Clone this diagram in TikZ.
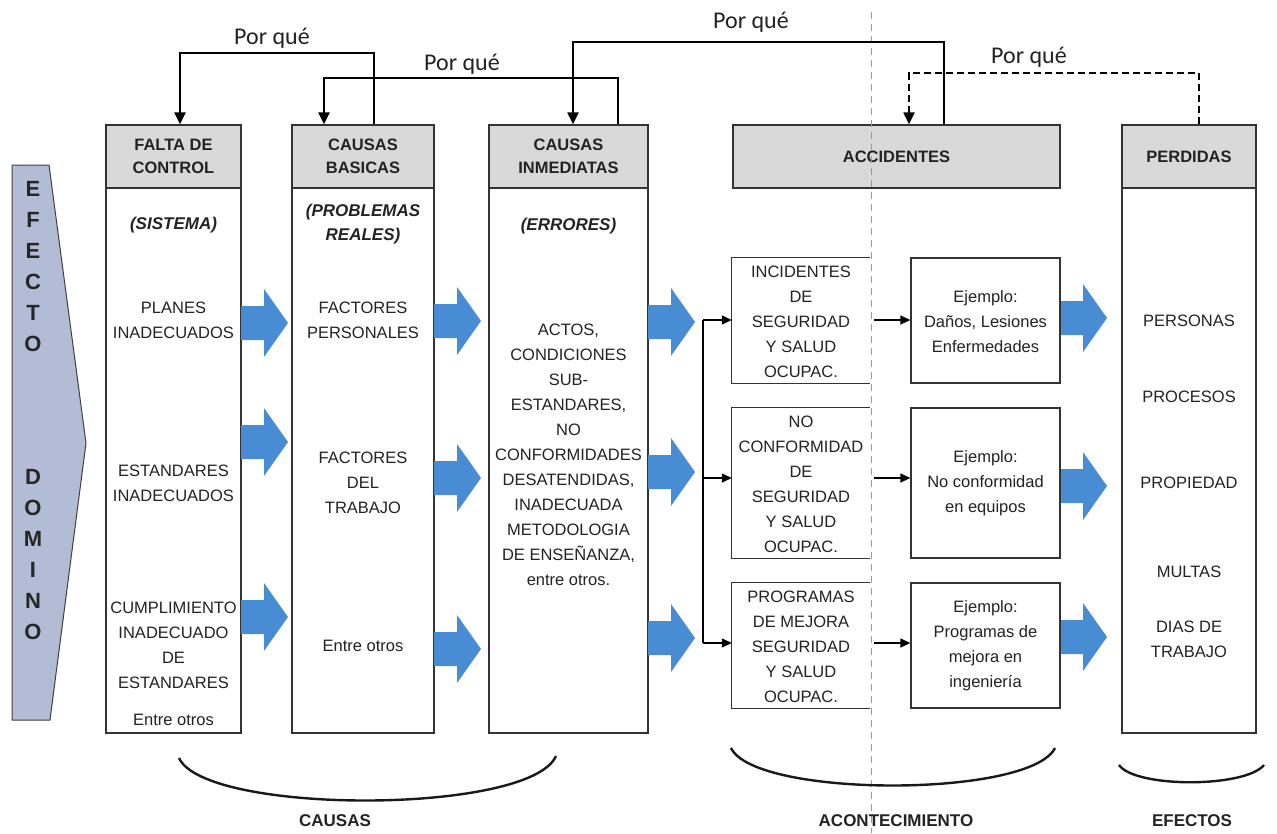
\documentclass[tikz,border=0pt]{standalone}
\usepackage{fontspec}
\setmainfont{Liberation Sans}
\newfontfamily\porfont{Carlito}
\usetikzlibrary{arrows.meta}
\definecolor{hdr}{RGB}{217,217,217}
\definecolor{blueA}{RGB}{72,141,212}
\definecolor{domino}{RGB}{178,188,212}
\definecolor{txtc}{RGB}{35,35,35}
\newcommand\bluearr[2]{\fill[blueA,shift={(#1,#2)}] (0,-17) -- (23,-17) -- (23,-34) -- (47,0) -- (23,34) -- (23,17) -- (0,17) -- cycle;}
\begin{document}
\begin{tikzpicture}[x=1pt,y=-1pt,
  box/.style={draw=black!80,line width=1.3pt,inner sep=0pt},
  hdrbox/.style={box,fill=hdr,align=center,text=txtc,font=\fontsize{16.5}{23}\selectfont\bfseries},
  txt/.style={text=txtc,align=center,inner sep=0pt,font=\fontsize{16.5}{25}\selectfont},
  subt/.style={text=txtc,align=center,inner sep=0pt,font=\fontsize{17}{24}\selectfont\bfseries\itshape},
  porque/.style={font=\porfont\fontsize{24}{26}\selectfont,inner sep=0pt,text=txtc},
  conn/.style={line width=2.2pt,-{Triangle[length=12pt,width=11pt]}},
  smallarr/.style={line width=1.3pt,-{Triangle[length=10pt,width=9pt]}},
  bottomlbl/.style={font=\fontsize{17}{20}\selectfont\bfseries,inner sep=0pt,text=txtc},
  brace/.style={line width=2.4pt,black!90},
  letters/.style={align=center,inner sep=0pt,font=\fontsize{22}{31}\selectfont\bfseries,text=black!85}
  ]
\fill[white] (0,0) rectangle (1277,833);
\useasboundingbox (0,0) rectangle (1277,833);

% dominó arrow
\draw[fill=domino,draw=black!75,line width=1pt] (12,165) -- (49,165) -- (86,443) -- (50,720) -- (12,720) -- cycle;
\node[letters] (ef) at (33,267) {E\\F\\E\\C\\T\\O};
\node[letters] (dm) at (33,555) {D\\O\\M\\I\\N\\O};

% column boxes
\node[hdrbox,minimum width=135pt,minimum height=63pt] (h1) at (173.5,156.5) {FALTA DE\\CONTROL};
\node[box,minimum width=135pt,minimum height=545pt] (b1) at (173.5,460.5) {};
\node[hdrbox,minimum width=142pt,minimum height=63pt] (h2) at (363,156.5) {CAUSAS\\BASICAS};
\node[box,minimum width=142pt,minimum height=545pt] (b2) at (363,460.5) {};
\node[hdrbox,minimum width=159pt,minimum height=63pt] (h3) at (568.5,156.5) {CAUSAS\\INMEDIATAS};
\node[box,minimum width=159pt,minimum height=545pt] (b3) at (568.5,460.5) {};
\node[hdrbox,minimum width=327pt,minimum height=63pt] (hA) at (896.5,156.5) {ACCIDENTES};
\node[hdrbox,minimum width=134pt,minimum height=63pt] (h5) at (1189,156.5) {PERDIDAS};
\node[box,minimum width=134pt,minimum height=545pt] (b5) at (1189,460.5) {};

% column 1 texts
\node[subt] (s1) at (173.5,225) {(SISTEMA)};
\node[txt] (t1a) at (173.5,320.5) {PLANES\\INADECUADOS};
\node[txt] (t1b) at (173.5,483.5) {ESTANDARES\\INADECUADOS};
\node[txt] (t1c) at (173.5,645) {CUMPLIMIENTO\\INADECUADO\\DE\\ESTANDARES};
\node[txt] (t1d) at (173.5,720) {Entre otros};
% column 2 texts
\node[subt] (s2) at (363,224.5) {(PROBLEMAS\\REALES)};
\node[txt] (t2a) at (363,320.5) {FACTORES\\PERSONALES};
\node[txt] (t2b) at (363,483) {FACTORES\\DEL\\TRABAJO};
\node[txt] (t2c) at (363,646) {Entre otros};
% column 3 texts
\node[subt] (s3) at (568.5,226) {(ERRORES)};
\node[txt] (t3a) at (568.5,455) {ACTOS,\\CONDICIONES\\SUB-\\ESTANDARES,\\NO\\CONFORMIDADES\\DESATENDIDAS,\\INADECUADA\\METODOLOGIA\\DE ENSEÑANZA,\\entre otros.};

% blue arrows
\bluearr{241}{323}\bluearr{241}{442}\bluearr{241}{617}
\bluearr{434}{321}\bluearr{434}{478}\bluearr{434}{649}
\bluearr{648}{322}\bluearr{648}{472}\bluearr{648}{638}
\bluearr{1060}{318}\bluearr{1060}{486}\bluearr{1060}{637}

% event boxes (open on the right)
\node[minimum width=138pt,minimum height=125pt,inner sep=0pt] (e1) at (801,320.5) {};
\node[minimum width=138pt,minimum height=150pt,inner sep=0pt] (e2) at (801,483) {};
\node[minimum width=138pt,minimum height=125pt,inner sep=0pt] (e3) at (801,645.5) {};
\foreach \e in {e1,e2,e3}
  \draw[draw=black!80,line width=1.3pt] (\e.north east) -- (\e.north west) -- (\e.south west) -- (\e.south east);
\node[txt] (te1) at (801,322) {INCIDENTES\\DE\\SEGURIDAD\\Y SALUD\\OCUPAC.};
\node[txt] (te2) at (801,484) {NO\\CONFORMIDAD\\DE\\SEGURIDAD\\Y SALUD\\OCUPAC.};
\node[txt] (te3) at (801,646.5) {PROGRAMAS\\DE MEJORA\\SEGURIDAD\\Y SALUD\\OCUPAC.};

% example boxes
\node[box,minimum width=149pt,minimum height=125pt] (x1) at (985.5,320.5) {};
\node[box,minimum width=149pt,minimum height=150pt] (x2) at (985.5,483) {};
\node[box,minimum width=149pt,minimum height=125pt] (x3) at (985.5,645.5) {};
\node[txt] (tx1) at (985.5,322) {Ejemplo:\\Daños, Lesiones\\Enfermedades};
\node[txt] (tx2) at (985.5,483) {Ejemplo:\\No conformidad\\en equipos};
\node[txt] (tx3) at (985.5,645.5) {Ejemplo:\\Programas de\\mejora en\\ingeniería};

% PERDIDAS texts
\node[txt] (tp1) at (1189,321) {PERSONAS};
\node[txt] (tp2) at (1189,397) {PROCESOS};
\node[txt] (tp3) at (1189,483) {PROPIEDAD};
\node[txt] (tp4) at (1189,572) {MULTAS};
\node[txt] (tp5) at (1189,639) {DIAS DE\\TRABAJO};

% bracket arrows into events
\coordinate (k1) at (703,320);
\coordinate (k2) at (703,478);
\coordinate (k3) at (703,643);
\draw[line width=1.3pt] (k1) -- (k3);
\draw[smallarr] (k1) -- (e1.west |- k1);
\draw[smallarr] (k2) -- (e2.west |- k2);
\draw[smallarr] (k3) -- (e3.west |- k3);
% small arrows events -> examples
\coordinate (m1) at (874,320);
\coordinate (m2) at (874,478);
\coordinate (m3) at (874,643);
\draw[smallarr] (m1) -- (x1.west |- m1);
\draw[smallarr] (m2) -- (x2.west |- m2);
\draw[smallarr] (m3) -- (x3.west |- m3);

% gray dashed divider
\coordinate (g1) at (871,12);
\coordinate (g2) at (871,833);
\draw[black!40,line width=0.9pt,dash pattern=on 7pt off 5pt] (g1) -- (g2);

% Por qué connectors
\coordinate (u1) at (374,53);  \coordinate (p1) at (180,53);
\coordinate (u2) at (618,78);  \coordinate (p2) at (324,78);
\coordinate (u3) at (944,42);  \coordinate (p3) at (573,42);
\coordinate (u4) at (1199,73); \coordinate (p4) at (909,73);
\draw[conn] (u1 |- h2.north) -- (u1) -- (p1) -- (p1 |- h1.north);
\draw[conn] (u2 |- h3.north) -- (u2) -- (p2) -- (p2 |- h2.north);
\draw[conn] (u3 |- hA.north) -- (u3) -- (p3) -- (p3 |- h3.north);
\draw[conn,dash pattern=on 7pt off 4pt] (u4 |- h5.north) -- (u4) -- (p4) -- (p4 |- hA.north);
\node[porque] (q1) at (272,38) {Por qué};
\node[porque] (q2) at (462,64) {Por qué};
\node[porque] (q3) at (751,22) {Por qué};
\node[porque] (q4) at (1029,57) {Por qué};

% bottom braces
\coordinate (a1) at (179,758); \coordinate (a2) at (556,756);
\coordinate (c1) at (731,748); \coordinate (c2) at (1055,748);
\coordinate (d1) at (1119,765); \coordinate (d2) at (1264,765);
\draw[brace] (a1) .. controls (205,815) and (530,815) .. (a2);
\draw[brace] (c1) .. controls (755,798) and (1030,798) .. (c2);
\draw[brace] (d1) .. controls (1135,788) and (1245,788) .. (d2);
\node[bottomlbl] (lc) at (335,821) {CAUSAS};
\node[bottomlbl] (la) at (896,821) {ACONTECIMIENTO};
\node[bottomlbl] (le) at (1192,821) {EFECTOS};
\end{tikzpicture}
\end{document}
